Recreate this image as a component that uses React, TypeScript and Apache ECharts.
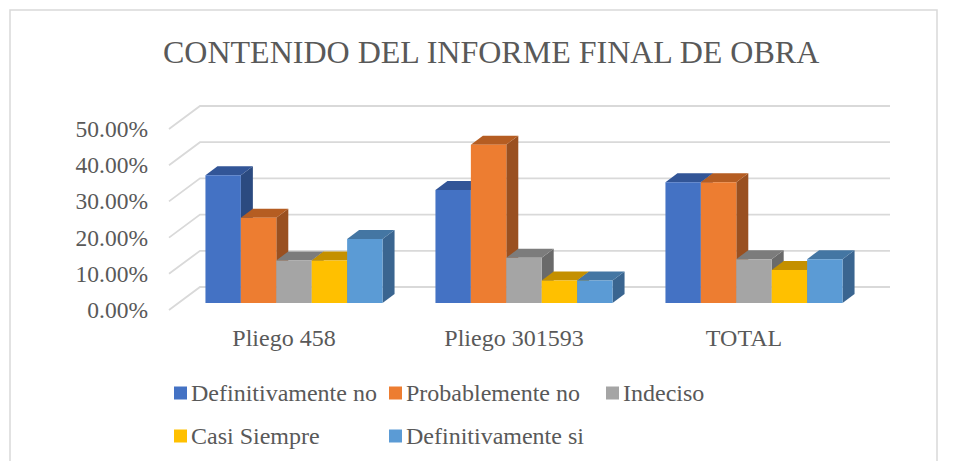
import React, { useEffect, useRef } from "react";
import * as echarts from "echarts";

const titleText = "CONTENIDO DEL INFORME FINAL DE OBRA";
const categories = ["Pliego 458", "Pliego 301593", "TOTAL"];
const seriesNames = ["Definitivamente no", "Probablemente no", "Indeciso", "Casi Siempre", "Definitivamente si"];
const definitivamenteNo = [35.29, 31.25, 33.33];
const probablementeNo = [23.53, 43.75, 33.33];
const indeciso = [11.76, 12.5, 12.12];
const casiSiempre = [11.76, 6.25, 9.09];
const definitivamenteSi = [17.65, 6.25, 12.12];
const yTicks = [0, 10, 20, 30, 40, 50];

const frontColors = ["#4472C4", "#ED7D31", "#A5A5A5", "#FFC000", "#5B9BD5"];
const topColors = ["#325597", "#B55D22", "#7C7C7C", "#C49000", "#4476A3"];
const sideColors = ["#2B4A80", "#9A5020", "#6A6A6A", "#A87B00", "#3A6590"];
const allValues = [definitivamenteNo, probablementeNo, indeciso, casiSiempre, definitivamenteSi];

const FONT = "'Liberation Serif', 'Times New Roman', serif";
const TEXT = "#595959";
const GRID_LEFT = 169;
const GRID_TOP = 129;
const GRID_W = 690;
const GRID_H = 181;
const WALL_DX = 31;
const WALL_DY = 23;
const BAR_SHIFT_X = 10;
const BAR_SHIFT_Y = -7;
const DEPTH_X = 12;
const DEPTH_Y = 9;
const BAR_FRACTION = 0.154;

const legendPos = [
  { left: 174, top: 381 },
  { left: 389, top: 381 },
  { left: 606, top: 381 },
  { left: 174, top: 424 },
  { left: 389, top: 424 },
];

export default function App() {
  const ref = useRef<HTMLDivElement>(null);
  useEffect(() => {
    const chart = echarts.init(ref.current!, null, { renderer: "svg" });

    const wall = {
      type: "custom",
      silent: true,
      z: 1,
      data: yTicks.map((v) => [0, v]),
      encode: { x: 0, y: 1 },
      renderItem: (_p: any, api: any) => {
        const pt = api.coord([api.value(0), api.value(1)]);
        const bandW = api.size([1, 0])[0];
        const x0 = pt[0] - bandW / 2;
        const y0 = pt[1];
        return {
          type: "polyline",
          shape: {
            points: [
              [x0, y0],
              [x0 + WALL_DX, y0 - WALL_DY],
              [x0 + WALL_DX + GRID_W, y0 - WALL_DY],
            ],
          },
          style: { stroke: "#D9D9D9", lineWidth: 1.8, fill: "none" },
        };
      },
    };

    const bars = seriesNames.map((name, s) => ({
      type: "custom",
      name,
      z: 2,
      itemStyle: { color: frontColors[s] },
      data: allValues[s].map((v, i) => [i, v]),
      encode: { x: 0, y: 1 },
      renderItem: (_p: any, api: any) => {
        const top = api.coord([api.value(0), api.value(1)]);
        const base = api.coord([api.value(0), 0]);
        const w = api.size([1, 0])[0] * BAR_FRACTION;
        const x = top[0] - (5 * w) / 2 + s * w + BAR_SHIFT_X;
        const yT = top[1] + BAR_SHIFT_Y;
        const yB = base[1] + BAR_SHIFT_Y;
        return {
          type: "group",
          children: [
            {
              type: "polygon",
              shape: { points: [[x + w, yT], [x + w + DEPTH_X, yT - DEPTH_Y], [x + w + DEPTH_X, yB - DEPTH_Y], [x + w, yB]] },
              style: { fill: sideColors[s] },
            },
            {
              type: "polygon",
              shape: { points: [[x, yT], [x + DEPTH_X, yT - DEPTH_Y], [x + w + DEPTH_X, yT - DEPTH_Y], [x + w, yT]] },
              style: { fill: topColors[s] },
            },
            {
              type: "rect",
              shape: { x, y: yT, width: w, height: yB - yT },
              style: { fill: frontColors[s] },
            },
          ],
        };
      },
    }));

    chart.setOption({
      animation: false,
      backgroundColor: "#fff",
      title: {
        text: titleText,
        left: 158,
        top: 31,
        textStyle: { fontFamily: FONT, fontSize: 32, fontWeight: "normal", color: TEXT },
      },
      grid: { left: GRID_LEFT, top: GRID_TOP, width: GRID_W, height: GRID_H, containLabel: false },
      xAxis: {
        type: "category",
        data: categories,
        axisLine: { show: false },
        axisTick: { show: false },
        axisLabel: { fontFamily: FONT, fontSize: 24, color: TEXT, margin: 16 },
      },
      yAxis: {
        type: "value",
        min: 0,
        max: 50,
        interval: 10,
        axisLine: { show: false },
        axisTick: { show: false },
        splitLine: { show: false },
        axisLabel: {
          fontFamily: FONT,
          fontSize: 23.5,
          color: TEXT,
          margin: 21,
          formatter: (v: number) => v.toFixed(2) + "%",
        },
      },
      legend: seriesNames.map((name, i) => ({
        data: [{ name, icon: "rect" }],
        left: legendPos[i].left,
        top: legendPos[i].top,
        orient: "horizontal",
        selectedMode: false,
        padding: 0,
        itemWidth: 13,
        itemHeight: 13,
        itemGap: 0,
        textStyle: { fontFamily: FONT, fontSize: 24, color: TEXT, padding: [0, 0, 0, -1] },
      })),
      graphic: [
        {
          type: "rect",
          silent: true,
          z: -1,
          shape: { x: 10, y: 10, width: 927, height: 470 },
          style: { fill: "none", stroke: "#D9D9D9", lineWidth: 1.5 },
        },
      ],
      series: [wall, ...bars],
    });
    return () => chart.dispose();
  }, []);
  return <div ref={ref} style={{ position: "absolute", left: 0, top: 0, width: 954, height: 461 }} />;
}
